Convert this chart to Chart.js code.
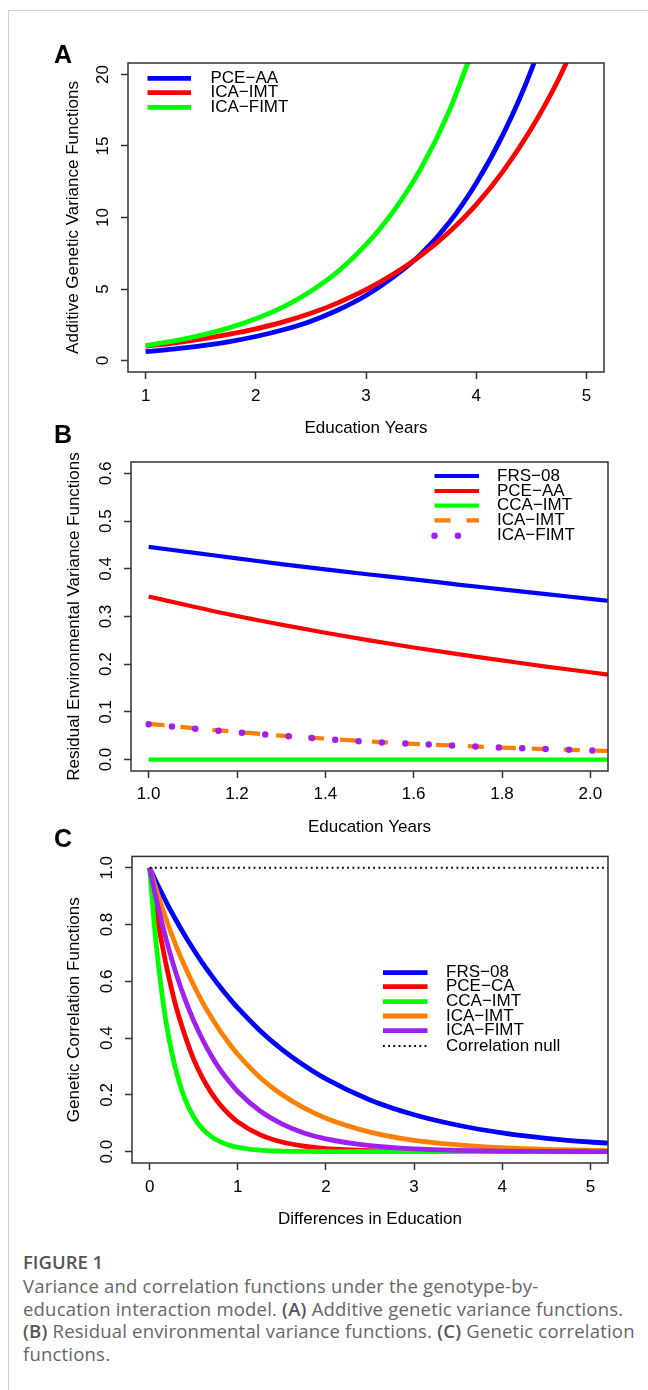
<!DOCTYPE html>
<html>
<head>
<meta charset="utf-8">
<script src="https://cdn.jsdelivr.net/npm/chart.js@4.4.1/dist/chart.umd.min.js"></script>
<style>
  body { margin: 0; background: #fff; width: 648px; height: 1390px; position: relative; overflow: hidden; }
  #lineTop { position: absolute; left: 8px; top: 10px; right: 0; border-top: 1.5px solid #cfcfcf; }
  #lineLeft { position: absolute; left: 8px; top: 10px; bottom: 0; border-left: 1.5px solid #cfcfcf; }
  canvas { position: absolute; left: 0; }
  .tag { position: absolute; left: 54px; font: bold 25px 'Liberation Sans', Arial, sans-serif; line-height: 25px; color: #000; z-index: 2; }
  .caption { position: absolute; left: 23px; top: 1251px; font-family: 'Open Sans', sans-serif; font-size: 18.5px; letter-spacing: 0.2px; line-height: 22.5px; color: #666; white-space: nowrap; }
  .caption .fig { color: #555; font-weight: 600; margin-bottom: 1.5px; letter-spacing: 0; }
  .caption b { color: #555; font-weight: 600; }
</style>
</head>
<body>
<div id="lineTop"></div>
<div id="lineLeft"></div>

<canvas id="panelA" width="648" height="400" style="top:40px"></canvas>
<canvas id="panelB" width="648" height="400" style="top:440px"></canvas>
<canvas id="panelC" width="648" height="390" style="top:840px"></canvas>

<div class="tag" style="top:42px">A</div>
<div class="tag" style="top:422px">B</div>
<div class="tag" style="top:826px">C</div>

<div class="caption">
  <div class="fig">FIGURE 1</div>
  <div>Variance and correlation functions under the genotype-by-</div>
  <div>education interaction model. <b>(A)</b> Additive genetic variance functions.</div>
  <div><b>(B)</b> Residual environmental variance functions. <b>(C)</b> Genetic correlation</div>
  <div>functions.</div>
</div>

<script>
// Panel A - additive genetic variance
const eduA = [1, 1.25, 1.5, 1.75, 2, 2.25, 2.5, 2.75, 3, 3.25, 3.5, 3.75, 4, 4.25, 4.5, 4.75, 5];
const pceAA_A = [0.62, 0.8, 1.02, 1.31, 1.68, 2.15, 2.75, 3.55, 4.55, 5.85, 7.45, 9.6, 12.4, 15.9, 20.3, 26.0, 33.4];
const icaIMT_A = [1.0, 1.22, 1.5, 1.83, 2.22, 2.7, 3.3, 4.05, 4.95, 6.05, 7.35, 8.95, 10.9, 13.3, 16.2, 19.7, 24.0];
const icaFIMT_A = [1.05, 1.36, 1.76, 2.27, 2.92, 3.75, 4.85, 6.25, 8.1, 10.45, 13.45, 17.35, 22.4];
const xTicksA = [1, 2, 3, 4, 5];
const xLabelsA = ['1', '2', '3', '4', '5'];
const yTicksA = [0, 5, 10, 15, 20];
const yLabelsA = ['0', '5', '10', '15', '20'];

// Panel B - residual environmental variance
const eduB = [1.0, 1.1, 1.2, 1.3, 1.4, 1.5, 1.6, 1.7, 1.8, 1.9, 2.0, 2.04];
const frs08_B = [0.446, 0.434, 0.422, 0.41, 0.399, 0.388, 0.378, 0.367, 0.357, 0.347, 0.337, 0.333];
const pceAA_B = [0.342, 0.321, 0.301, 0.283, 0.266, 0.25, 0.235, 0.221, 0.208, 0.195, 0.183, 0.178];
const ccaIMT_B = [0, 0, 0, 0, 0, 0, 0, 0, 0, 0, 0, 0];
const icaIMT_B = [0.075, 0.066, 0.058, 0.05, 0.044, 0.038, 0.033, 0.029, 0.025, 0.022, 0.019, 0.018];
const icaFIMT_B = [0.074, 0.065, 0.057, 0.05, 0.043, 0.037, 0.033, 0.029, 0.025, 0.022, 0.019, 0.018];
const xTicksB = [1.0, 1.2, 1.4, 1.6, 1.8, 2.0];
const xLabelsB = ['1.0', '1.2', '1.4', '1.6', '1.8', '2.0'];
const yTicksB = [0, 0.1, 0.2, 0.3, 0.4, 0.5, 0.6];
const yLabelsB = ['0.0', '0.1', '0.2', '0.3', '0.4', '0.5', '0.6'];

// Panel C - genetic correlation
const diffC = [0, 0.05, 0.1, 0.15, 0.2, 0.3, 0.4, 0.5, 0.6, 0.7, 0.8, 0.9, 1, 1.25, 1.5, 1.75, 2, 2.5, 3, 3.5, 4, 4.5, 5, 5.2];
const frs08_C = [1, 0.966, 0.934, 0.903, 0.872, 0.815, 0.761, 0.711, 0.664, 0.621, 0.58, 0.542, 0.506, 0.427, 0.36, 0.304, 0.256, 0.182, 0.13, 0.093, 0.066, 0.047, 0.034, 0.03];
const pceCA_C = [1, 0.894, 0.8, 0.716, 0.64, 0.51, 0.41, 0.325, 0.26, 0.207, 0.165, 0.132, 0.105, 0.06, 0.034, 0.0195, 0.011, 0.0036, 0.0012, 0.0004, 0, 0, 0, 0];
const ccaIMT_C = [1, 0.81, 0.657, 0.533, 0.432, 0.284, 0.186, 0.122, 0.08, 0.053, 0.035, 0.023, 0.015, 0.005, 0.0018, 0.0006, 0.0002, 0, 0, 0, 0, 0, 0, 0];
const icaIMT_C = [1, 0.948, 0.899, 0.852, 0.807, 0.725, 0.652, 0.586, 0.526, 0.473, 0.425, 0.382, 0.343, 0.262, 0.201, 0.154, 0.118, 0.069, 0.04, 0.024, 0.014, 0.008, 0.0047, 0.0038];
const icaFIMT_C = [1, 0.925, 0.857, 0.793, 0.734, 0.628, 0.538, 0.461, 0.395, 0.338, 0.289, 0.248, 0.212, 0.144, 0.098, 0.066, 0.045, 0.021, 0.0096, 0.0044, 0.002, 0.0009, 0.0004, 0.0003];
const nullX = [0, 5.2];
const nullY = [1, 1];
const xTicksC = [0, 1, 2, 3, 4, 5];
const xLabelsC = ['0', '1', '2', '3', '4', '5'];
const yTicksC = [0, 0.2, 0.4, 0.6, 0.8, 1.0];
const yLabelsC = ['0.0', '0.2', '0.4', '0.6', '0.8', '1.0'];

const BLUE = '#0000ff', RED = '#ff0000', GREEN = '#00ff00', ORANGE = '#ff7f00', PURPLE = '#a020f0';
const FONT = "'Liberation Sans', Arial, sans-serif";
Chart.defaults.font.family = FONT;
Chart.defaults.color = '#000';

function pts(xs, ys) {
  return ys.map((y, i) => ({ x: xs[i], y: y }));
}

function line(label, xs, ys, color, width, extra) {
  return Object.assign({
    label: label,
    data: pts(xs, ys),
    showLine: true,
    borderColor: color,
    backgroundColor: color,
    borderWidth: width,
    pointRadius: 0,
    pointHoverRadius: 0,
    cubicInterpolationMode: 'monotone',
    clip: 0
  }, extra || {});
}

// box around the plot region, like R's box()
const plotBox = {
  id: 'plotBox',
  afterDatasetsDraw(chart) {
    const a = chart.chartArea, ctx = chart.ctx;
    ctx.save();
    ctx.strokeStyle = '#333';
    ctx.lineWidth = 1.5;
    ctx.strokeRect(a.left, a.top, a.right - a.left, a.bottom - a.top);
    ctx.restore();
  }
};

// legend drawn inside the plot at fixed spots
const rLegend = {
  id: 'rLegend',
  afterDatasetsDraw(chart, args, o) {
    if (!o || !o.rows) return;
    const ctx = chart.ctx;
    ctx.save();
    chart.data.datasets.forEach((ds, i) => {
      const y = o.rows[i];
      ctx.beginPath();
      ctx.strokeStyle = ds.borderColor;
      ctx.lineWidth = ds.borderWidth;
      ctx.setLineDash(ds.borderDash || []);
      ctx.lineCap = ds.borderCapStyle || 'butt';
      ctx.moveTo(o.x0, y);
      ctx.lineTo(o.x1, y);
      ctx.stroke();
      ctx.setLineDash([]);
      ctx.fillStyle = '#000';
      ctx.font = '17px ' + FONT;
      ctx.textBaseline = 'middle';
      ctx.textAlign = 'left';
      ctx.fillText(ds.label, o.tx, y);
    });
    ctx.restore();
  }
};

function axes(p) {
  return {
    x: {
      type: 'linear', position: 'bottom', min: p.xMin, max: p.xMax, bounds: 'data',
      afterBuildTicks: s => { s.ticks = p.xTicks.map(v => ({ value: v })); },
      afterFit: s => { s.height = p.xHeight; },
      ticks: {
        autoSkip: false, maxRotation: 0, padding: p.xPad,
        font: { size: 17 }, color: '#000',
        callback: (v, i) => p.xLabels[i]
      },
      grid: { drawOnChartArea: false, tickLength: 7, tickColor: '#333', tickWidth: 1.5 },
      border: { display: false },
      title: { display: true, text: p.xTitle, color: '#000', font: { size: 17 }, padding: { top: 0, bottom: p.xTitlePad } }
    },
    y: {
      type: 'linear', position: 'left', min: p.yMin, max: p.yMax, bounds: 'data',
      afterBuildTicks: s => { s.ticks = p.yTicks.map(v => ({ value: v })); },
      afterFit: s => { s.width = p.yWidth; },
      ticks: {
        autoSkip: false, minRotation: 90, maxRotation: 90, crossAlign: 'center', padding: p.yPad,
        font: { size: 17 }, color: '#000',
        callback: (v, i) => p.yLabels[i]
      },
      grid: { drawOnChartArea: false, tickLength: 7, tickColor: '#333', tickWidth: 1.5 },
      border: { display: false },
      title: { display: true, text: p.yTitle, color: '#000', font: { size: 17 }, padding: { top: p.yTitlePad, bottom: 0 } }
    }
  };
}

function panel(id, datasets, p) {
  datasets.forEach((d, i) => { d.order = -i; });
  return new Chart(document.getElementById(id), {
    type: 'scatter',
    data: { datasets: datasets },
    options: {
      responsive: false,
      animation: false,
      events: [],
      layout: { padding: { left: 0, top: p.top, right: p.right, bottom: 0 } },
      plugins: {
        legend: { display: false },
        tooltip: { enabled: false },
        rLegend: p.legend
      },
      scales: axes(p)
    },
    plugins: [plotBox, rLegend]
  });
}

panel('panelA', [
  line('PCE\u2212AA', eduA, pceAA_A, BLUE, 4.8),
  line('ICA\u2212IMT', eduA, icaIMT_A, RED, 4.8),
  line('ICA\u2212FIMT', eduA, icaFIMT_A, GREEN, 4.8)
], {
  xMin: 0.84, xMax: 5.16, yMin: -0.8, yMax: 20.8,
  xTicks: xTicksA, xLabels: xLabelsA, yTicks: yTicksA, yLabels: yLabelsA,
  xTitle: 'Education Years', yTitle: 'Additive Genetic Variance Functions',
  top: 23, right: 44, xHeight: 68, yWidth: 128,
  xPad: 6.8, yPad: 8, xTitlePad: 1.8, yTitlePad: 62.8,
  legend: { x0: 147.5, x1: 191, tx: 210.5, rows: [38.3, 52.7, 67.3] }
});

panel('panelB', [
  line('FRS\u221208', eduB, frs08_B, BLUE, 4.2),
  line('PCE\u2212AA', eduB, pceAA_B, RED, 4.2),
  line('CCA\u2212IMT', eduB, ccaIMT_B, GREEN, 4.2),
  line('ICA\u2212IMT', eduB, icaIMT_B, ORANGE, 4.2, { borderDash: [16, 16] }),
  line('ICA\u2212FIMT', eduB, icaFIMT_B, PURPLE, 6.5, { borderDash: [0, 23.4], borderCapStyle: 'round' })
], {
  xMin: 0.96, xMax: 2.04, yMin: -0.024, yMax: 0.624,
  xTicks: xTicksB, xLabels: xLabelsB, yTicks: yTicksB, yLabels: yLabelsB,
  xTitle: 'Education Years', yTitle: 'Residual Environmental Variance Functions',
  top: 22, right: 40, xHeight: 69, yWidth: 131,
  xPad: 5.8, yPad: 6.2, xTitlePad: 2.8, yTitlePad: 63.8,
  legend: { x0: 434.5, x1: 479, tx: 497, rows: [36, 51, 65.7, 80.3, 95.7] }
});

panel('panelC', [
  line('FRS\u221208', diffC, frs08_C, BLUE, 4.8),
  line('PCE\u2212CA', diffC, pceCA_C, RED, 4.8),
  line('CCA\u2212IMT', diffC, ccaIMT_C, GREEN, 4.8),
  line('ICA\u2212IMT', diffC, icaIMT_C, ORANGE, 4.8),
  line('ICA\u2212FIMT', diffC, icaFIMT_C, PURPLE, 4.8),
  line('Correlation null', nullX, nullY, '#000', 1.8, { borderDash: [1.8, 3.4], cubicInterpolationMode: 'default' })
], {
  xMin: -0.2, xMax: 5.2, yMin: -0.04, yMax: 1.04,
  xTicks: xTicksC, xLabels: xLabelsC, yTicks: yTicksC, yLabels: yLabelsC,
  xTitle: 'Differences in Education', yTitle: 'Genetic Correlation Functions',
  top: 14, right: 40, xHeight: 67, yWidth: 132,
  xPad: 6.8, yPad: 6.2, xTitlePad: 0.8, yTitlePad: 63.8,
  legend: { x0: 383, x1: 427.5, tx: 446, rows: [132.7, 146.7, 161.7, 176, 190.7, 206] }
});
</script>
</body>
</html>
